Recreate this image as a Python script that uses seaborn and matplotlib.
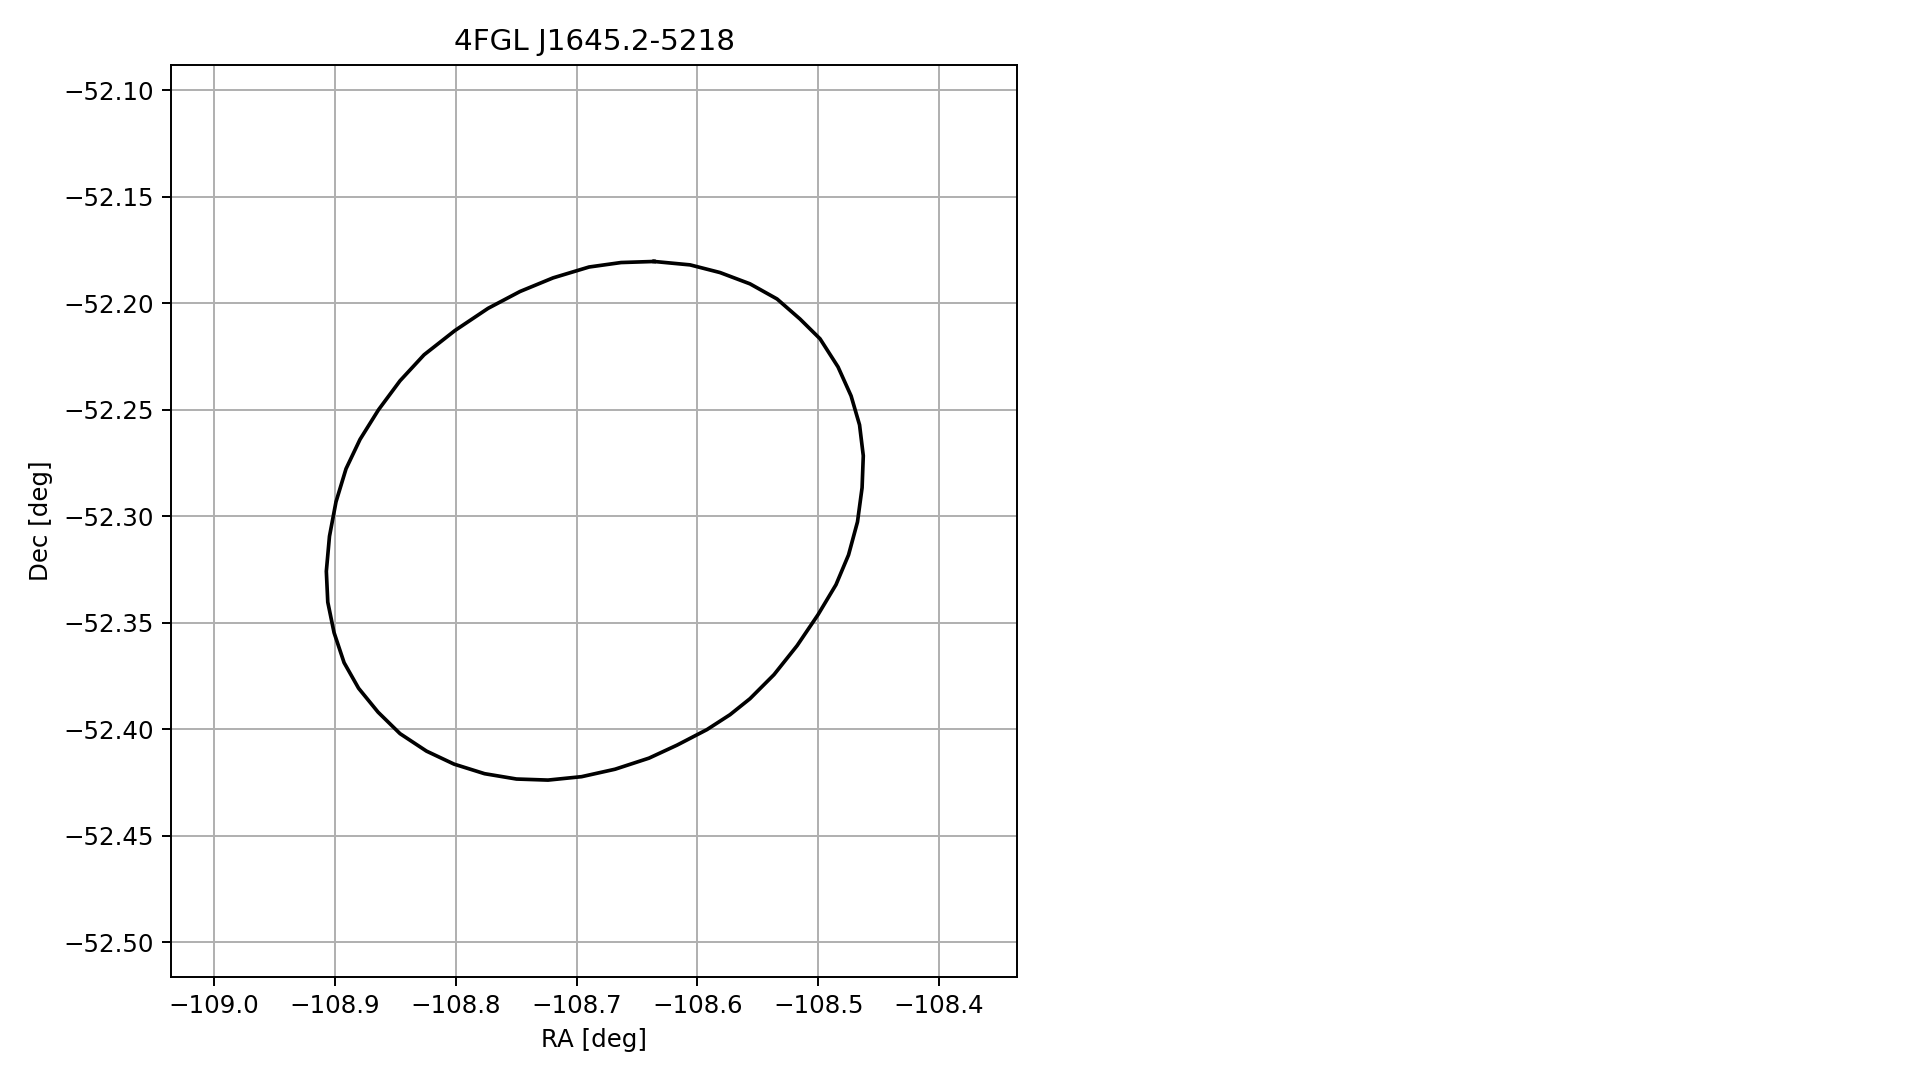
import matplotlib
matplotlib.use("Agg")
import matplotlib.pyplot as plt
import pandas as pd
import seaborn as sns

# error ellipse vertices of the source
title = "4FGL J1645.2-5218"
ra = [
    -108.6359, -108.6632, -108.6897, -108.7195, -108.7469, -108.7733, -108.8007,
    -108.8263, -108.8462, -108.8640, -108.8793, -108.8909, -108.8992, -108.9046,
    -108.9072, -108.9060, -108.9008, -108.8925, -108.8805, -108.8644, -108.8462,
    -108.8243, -108.8015, -108.7762, -108.7498, -108.7237, -108.6959, -108.6682,
    -108.6401, -108.6169, -108.5921, -108.5730, -108.5565, -108.5366, -108.5175,
    -108.5002, -108.4853, -108.4749, -108.4675, -108.4637, -108.4627, -108.4658,
    -108.4728, -108.4836, -108.4985, -108.5151, -108.5341, -108.5565, -108.5813,
    -108.6061, -108.6359,
]
dec = [
    -52.1804, -52.1809, -52.1830, -52.1881, -52.1945, -52.2024, -52.2128,
    -52.2242, -52.2364, -52.2500, -52.2639, -52.2777, -52.2932, -52.3094,
    -52.3258, -52.3403, -52.3546, -52.3687, -52.3807, -52.3919, -52.4020,
    -52.4102, -52.4163, -52.4208, -52.4233, -52.4238, -52.4222, -52.4187,
    -52.4135, -52.4074, -52.4001, -52.3931, -52.3856, -52.3743, -52.3607,
    -52.3462, -52.3321, -52.3181, -52.3026, -52.2866, -52.2716, -52.2571,
    -52.2435, -52.2299, -52.2167, -52.2074, -52.1980, -52.1909, -52.1856,
    -52.1820, -52.1804,
]
ra_lim = (-109.0358, -108.3354)
dec_lim = (-52.5162, -52.0882)

df = pd.DataFrame({"ra": ra, "dec": dec})

dpi = 176
fig = plt.figure(figsize=(1919 / dpi, 1080 / dpi), dpi=dpi)
ax = fig.add_axes([0.0891, 0.0954, 0.4409, 0.8444])

sns.lineplot(data=df, x="ra", y="dec", sort=False, estimator=None,
             color="black", linewidth=1.5, ax=ax)

ax.set_xlim(*ra_lim)
ax.set_ylim(*dec_lim)
ax.set_xticks([-109.0, -108.9, -108.8, -108.7, -108.6, -108.5, -108.4])
ax.set_yticks([-52.10, -52.15, -52.20, -52.25, -52.30, -52.35, -52.40, -52.45, -52.50])
ax.grid(True)
ax.set_axisbelow(True)
ax.set_xlabel("RA [deg]")
ax.set_ylabel("Dec [deg]")
ax.set_title(title)

fig.savefig("out.png", dpi=dpi)
